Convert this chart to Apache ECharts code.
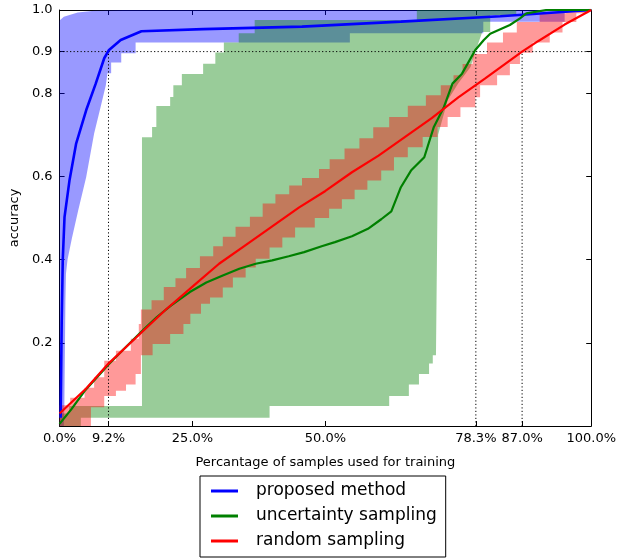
<!DOCTYPE html>
<html>
<head>
<meta charset="utf-8">
<script src="https://cdn.jsdelivr.net/npm/echarts@6/dist/echarts.min.js"></script>
<style>
    html, body { margin: 0; padding: 0; background: #fff; }
    #chart { width: 619px; height: 560px; }
</style>
</head>
<body>
<div id="chart"></div>
<script>
// tick positions (x in percent of samples, y in accuracy)
const xTicks = [0, 9.2, 25, 50, 78.3, 87, 100];
const yTicks = [0.2, 0.4, 0.6, 0.8, 0.9, 1.0];
const targetAcc = 0.9;
const crossX = [9.2, 78.3, 87.0];

// mean curves [x%, accuracy]
const proposedLine = [[0.2, 0.02], [0.4, 0.25], [0.6, 0.4], [0.93, 0.502], [1.86, 0.59], [3.1, 0.678],
    [5.0, 0.759], [6.8, 0.823], [8.4, 0.884], [9.3, 0.904], [11.5, 0.928], [15.4, 0.949], [27, 0.954],
    [45.6, 0.96], [64.2, 0.972], [82.9, 0.985], [100, 1.0]];
const uncertaintyLine = [[0, 0.005], [2.2, 0.04], [4.7, 0.084], [9.3, 0.149], [12.1, 0.185], [15.8, 0.232],
    [18.3, 0.262], [21, 0.29], [24.5, 0.322], [27.6, 0.345], [30.7, 0.362], [33.8, 0.378], [36.9, 0.39],
    [40, 0.398], [43.1, 0.408], [46, 0.418], [49.3, 0.432], [51.8, 0.442], [55, 0.456], [58, 0.474],
    [60.5, 0.497], [62.4, 0.516], [64.2, 0.574], [66.1, 0.614], [68.6, 0.646], [70.4, 0.719], [72.3, 0.767],
    [73.9, 0.823], [75.7, 0.847], [78.2, 0.904], [79.8, 0.928], [81.0, 0.943], [84.7, 0.964], [86.6, 0.98],
    [87.8, 0.992], [91.6, 1.0], [100, 1.0]];
const randomLine = [[0, 0.03], [5, 0.09], [9.2, 0.15], [15, 0.22], [20, 0.28], [25, 0.335], [30, 0.39],
    [35, 0.435], [40, 0.48], [45, 0.525], [50, 0.565], [55, 0.61], [60, 0.65], [65, 0.695], [70, 0.74],
    [75, 0.79], [80, 0.835], [87, 0.9], [90, 0.925], [95, 0.965], [100, 1.0]];

// band edges, vertices [x%, accuracy]
const proposedUpper = [[0, 0.975], [0.8, 0.984], [3.4, 0.994], [6.5, 0.998], [12, 1.0], [100, 1.0]];
const proposedLower = [[0, 0], [0.8, 0], [0.9, 0.05], [1.1, 0.3], [1.2, 0.366], [1.5, 0.4], [2.3, 0.45],
    [3.5, 0.518], [5.0, 0.598], [6.5, 0.703], [7.8, 0.771], [8.7, 0.819], [9.0, 0.848], [9.7, 0.848],
    [9.7, 0.874], [11.6, 0.874], [11.6, 0.896], [14.3, 0.896], [14.3, 0.922], [54.6, 0.922], [54.6, 0.944],
    [79.7, 0.944], [79.7, 0.972], [95.0, 0.972], [95.0, 1.0], [100, 1.0]];

// steps: [start x%, accuracy]
const uncertaintyUpperSteps = [[0, 0.03], [1.8, 0.048], [15.5, 0.694], [17.4, 0.719], [18.2, 0.769],
    [20.8, 0.791], [21.4, 0.819], [23.0, 0.846], [27.0, 0.871], [29.3, 0.898], [30.9, 0.922],
    [33.7, 0.944], [36.7, 0.976], [67.2, 1.0]];
const uncertaintyEnd = 85.9;
const uncertaintyLower = [[0, 0], [4.0, 0], [4.0, 0.02], [39.5, 0.02], [39.5, 0.048], [62.0, 0.048],
    [62.0, 0.072], [65.7, 0.072], [65.7, 0.10], [67.6, 0.10], [67.6, 0.125], [69.5, 0.125], [69.5, 0.15],
    [70.2, 0.15], [70.2, 0.17], [70.8, 0.17], [71.1, 0.55], [71.2, 0.70], [73.0, 0.783], [75.0, 0.824],
    [77.3, 0.863], [78.2, 0.899], [79.5, 0.947], [81.0, 0.947], [81.0, 0.988], [85.9, 0.988], [85.9, 1.0]];

const randomUpperSteps = [[0, 0.05], [2, 0.068], [4.7, 0.092], [6.5, 0.117], [8.4, 0.157], [10.6, 0.181],
    [13.4, 0.21], [14.9, 0.245], [15.3, 0.28], [17.3, 0.302], [19.6, 0.334], [21.8, 0.355], [23.8, 0.38],
    [26.4, 0.408], [28.9, 0.432], [30.7, 0.455], [33.1, 0.479], [35.8, 0.503], [38.2, 0.535], [40.6, 0.557],
    [43.2, 0.578], [45.6, 0.596], [48.8, 0.618], [50.8, 0.641], [53.6, 0.667], [56.4, 0.692], [59.0, 0.718],
    [62.0, 0.743], [65.5, 0.77], [68.9, 0.795], [71.7, 0.819], [74.1, 0.843], [75.8, 0.87], [77.7, 0.894],
    [80.4, 0.922], [83.4, 0.946], [86.0, 0.971], [90.3, 0.992], [95.3, 1.0]];
const randomLowerSteps = [[0, 0], [5.9, 0.045], [8.4, 0.072], [10.6, 0.085], [12.5, 0.1], [14.3, 0.125],
    [15.3, 0.17], [17.5, 0.197], [20.8, 0.221], [23.3, 0.245], [24.6, 0.27], [26.6, 0.294], [28.3, 0.309],
    [30.7, 0.333], [32.6, 0.357], [35.0, 0.381], [36.9, 0.402], [39.5, 0.429], [41.9, 0.453], [44.3, 0.477],
    [48.0, 0.5], [50.7, 0.522], [53.1, 0.545], [55.5, 0.568], [57.9, 0.59], [60.5, 0.614], [62.9, 0.646],
    [65.5, 0.67], [68.3, 0.695], [71.1, 0.719], [73.0, 0.743], [75.4, 0.766], [78.2, 0.79], [79.1, 0.819],
    [82.3, 0.843], [84.7, 0.87], [86.6, 0.897], [89.0, 0.922], [92.2, 0.946], [94.6, 0.971], [97.2, 0.992],
    [99.3, 1.0]];

const font = 'DejaVu Sans';

// turn [start, value] steps into polygon vertices
function stepPath(steps, endX) {
    const pts = [];
    steps.forEach((s, i) => {
        const next = i < steps.length - 1 ? steps[i + 1][0] : endX;
        pts.push([s[0], s[1]]);
        pts.push([next, s[1]]);
    });
    return pts;
}

function bandSeries(upper, lower, fill) {
    return {
        type: 'custom',
        silent: true,
        z: 1,
        data: [[0, 0]],
        renderItem: (params, api) => {
            const pts = upper.concat(lower.slice().reverse()).map(p => api.coord(p));
            return {
                type: 'polygon',
                shape: { points: pts },
                style: { fill: fill, stroke: null }
            };
        }
    };
}

function lineSeries(name, data, color, width) {
    return {
        name: name,
        type: 'line',
        data: data,
        showSymbol: false,
        z: 4,
        itemStyle: { color: color },
        lineStyle: { color: color, width: width }
    };
}

function dotted(data) {
    return {
        type: 'line',
        data: data,
        showSymbol: false,
        silent: true,
        z: 3,
        lineStyle: { color: '#000', width: 1, type: [1.2, 2.3] }
    };
}

const chart = echarts.init(document.getElementById('chart'));

const axisLine = { show: true, onZero: false, lineStyle: { color: '#000', width: 1 } };

const series = [
    bandSeries(proposedUpper, proposedLower, 'rgba(0,0,255,0.4)'),
    bandSeries(stepPath(uncertaintyUpperSteps, uncertaintyEnd), uncertaintyLower, 'rgba(0,128,0,0.4)'),
    bandSeries(stepPath(randomUpperSteps, 100), stepPath(randomLowerSteps, 100), 'rgba(255,0,0,0.4)'),
    dotted([[0, targetAcc], [100, targetAcc]]),
];
crossX.forEach(x => series.push(dotted([[x, 0], [x, targetAcc]])));
series.push(lineSeries('proposed method', proposedLine, '#0000ff', 2.6));
series.push(lineSeries('uncertainty sampling', uncertaintyLine, '#008000', 2.2));
series.push(lineSeries('random sampling', randomLine, '#ff0000', 2.2));

chart.setOption({
    animation: false,
    backgroundColor: '#fff',
    grid: { left: 55, top: 10, width: 537, height: 416 },
    legend: {
        data: ['proposed method', 'uncertainty sampling', 'random sampling'],
        orient: 'vertical',
        left: 200,
        top: 476,
        icon: 'rect',
        itemWidth: 27,
        itemHeight: 3,
        itemGap: 5,
        padding: [5, 9, 6, 11],
        borderColor: '#000',
        borderWidth: 1,
        borderRadius: 0,
        selectedMode: false,
        textStyle: { fontFamily: font, fontSize: 17, color: '#000', lineHeight: 20, padding: [0, 0, 0, 13] }
    },
    xAxis: [{
        type: 'value', min: 0, max: 100, position: 'bottom',
        axisLine: axisLine,
        splitLine: { show: false },
        axisTick: { inside: true, length: 5, customValues: xTicks, lineStyle: { color: '#000' } },
        axisLabel: {
            customValues: xTicks, color: '#000', fontFamily: font, fontSize: 13, margin: 6,
            formatter: v => v.toFixed(1) + '%'
        },
        name: 'Percantage of samples used for training',
        nameLocation: 'middle',
        nameGap: 30,
        nameTextStyle: { fontFamily: font, fontSize: 13, color: '#000' }
    }, {
        type: 'value', min: 0, max: 100, position: 'top',
        axisLine: axisLine,
        splitLine: { show: false },
        axisTick: { inside: true, length: 5, customValues: xTicks, lineStyle: { color: '#000' } },
        axisLabel: { show: false }
    }],
    yAxis: [{
        type: 'value', min: 0, max: 1, position: 'left',
        axisLine: axisLine,
        splitLine: { show: false },
        axisTick: { inside: true, length: 5, customValues: yTicks, lineStyle: { color: '#000' } },
        axisLabel: {
            customValues: yTicks, color: '#000', fontFamily: font, fontSize: 13, margin: 7,
            formatter: v => v.toFixed(1)
        },
        name: 'accuracy',
        nameLocation: 'middle',
        nameGap: 37,
        nameTextStyle: { fontFamily: font, fontSize: 13, color: '#000' }
    }, {
        type: 'value', min: 0, max: 1, position: 'right',
        axisLine: axisLine,
        splitLine: { show: false },
        axisTick: { inside: true, length: 5, customValues: yTicks, lineStyle: { color: '#000' } },
        axisLabel: { show: false }
    }],
    series: series
});
</script>
</body>
</html>
